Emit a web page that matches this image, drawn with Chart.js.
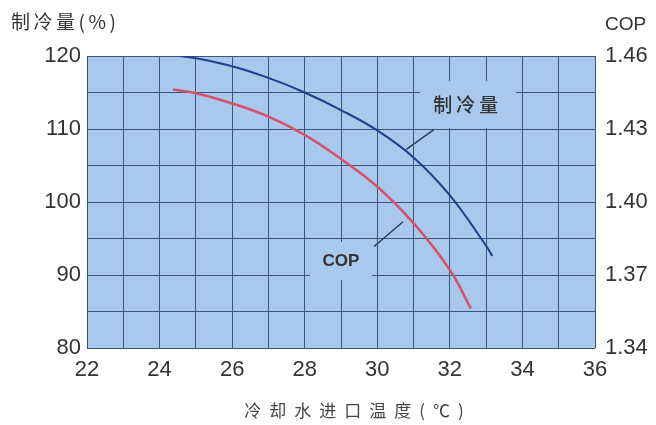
<!DOCTYPE html>
<html>
<head>
<meta charset="utf-8">
<script src="https://cdn.jsdelivr.net/npm/chart.js@4.4.1/dist/chart.umd.min.js"></script>
<style>
  html, body { margin: 0; padding: 0; background: #fff; }
  #wrap { width: 656px; height: 425px; position: relative; }
</style>
</head>
<body>
<div id="wrap"><canvas id="chart" width="656" height="425"></canvas></div>
<script>
// 冷却水进口温度 (℃) 与 制冷量 / COP 的数据
const capTemp = [24.55, 25, 26, 27, 28, 29, 30, 31, 32, 33, 33.17];
const capValue = [120.0, 119.7, 118.6, 117.0, 115.0, 112.6, 109.8, 106.1, 100.9, 94.0, 92.6];

const copTemp = [24.37, 25, 26, 27, 28, 29, 30, 31, 32, 32.58];
const copValue = [1.4462, 1.4447, 1.4405, 1.4351, 1.4276, 1.4177, 1.4063, 1.3913, 1.3721, 1.3562];

const xTicks = [22, 24, 26, 28, 30, 32, 34, 36];
const leftTicks = [80, 90, 100, 110, 120];
const rightTicks = [1.34, 1.37, 1.40, 1.43, 1.46];

const FONT = "Arial, 'Liberation Sans', sans-serif";
const CJK = "'Noto Sans CJK SC', sans-serif";
const GRID = '#39577d';
const PLOT_BG = '#a8c8ec';

// 背景 + 标注文字
const deco = {
    id: 'deco',
    beforeDraw(chart) {
        const { ctx, chartArea: a } = chart;
        ctx.save();
        ctx.fillStyle = PLOT_BG;
        ctx.fillRect(a.left, a.top, a.right - a.left, a.bottom - a.top);
        ctx.restore();
    },
    beforeDatasetsDraw(chart) {
        const { ctx } = chart;
        const x = chart.scales.x, yl = chart.scales.y;
        ctx.save();
        // 标注底色盖住网格线
        ctx.fillStyle = PLOT_BG;
        let px = x.getPixelForValue(32.5), py = yl.getPixelForValue(113.3);
        ctx.fillRect(px - 48, py - 24, 96, 47);
        px = x.getPixelForValue(29.0); py = yl.getPixelForValue(91.9);
        ctx.fillRect(px - 31, py - 19, 62, 38);
        ctx.restore();
    },
    afterDatasetsDraw(chart) {
        const { ctx } = chart;
        const x = chart.scales.x, yl = chart.scales.y;
        ctx.save();
        ctx.fillStyle = '#333';
        ctx.textAlign = 'center';
        ctx.textBaseline = 'middle';
        ctx.font = '500 19px ' + CJK;
        ctx.letterSpacing = '4px';
        ctx.fillText('制冷量', x.getPixelForValue(32.44) + 2, yl.getPixelForValue(113.3));
        ctx.letterSpacing = '0px';
        ctx.font = 'bold 17px ' + FONT;
        ctx.fillText('COP', x.getPixelForValue(29.0), yl.getPixelForValue(91.9));
        // 引线
        ctx.strokeStyle = '#2b3f5a';
        ctx.lineWidth = 1.5;
        ctx.beginPath();
        ctx.moveTo(x.getPixelForValue(30.8), yl.getPixelForValue(107.2));
        ctx.lineTo(x.getPixelForValue(31.56), yl.getPixelForValue(109.9));
        ctx.moveTo(x.getPixelForValue(29.91), yl.getPixelForValue(93.9));
        ctx.lineTo(x.getPixelForValue(30.71), yl.getPixelForValue(97.3));
        ctx.stroke();
        ctx.restore();
    },
    afterDraw(chart) {
        const { ctx } = chart;
        ctx.save();
        ctx.fillStyle = '#333';
        ctx.textBaseline = 'middle';
        ctx.textAlign = 'left';
        ctx.font = '19px ' + CJK;
        ctx.letterSpacing = '3.5px';
        ctx.fillText('制冷量(%)', 11, 22);
        ctx.letterSpacing = '0px';
        ctx.font = '19px ' + FONT;
        ctx.fillText('COP', 605, 25);
        ctx.font = '17px ' + CJK;
        ctx.letterSpacing = '8px';
        ctx.textAlign = 'center';
        ctx.fillStyle = '#444';
        ctx.fillText('冷却水进口温度(℃)', 358, 411);
        ctx.restore();
    }
};

new Chart(document.getElementById('chart').getContext('2d'), {
    type: 'line',
    data: {
        datasets: [{
            label: '制冷量',
            data: capTemp.map((t, i) => ({ x: t, y: capValue[i] })),
            borderColor: '#1f3f8f',
            borderWidth: 2,
            pointRadius: 0,
            tension: 0.4,
            yAxisID: 'y'
        }, {
            label: 'COP',
            data: copTemp.map((t, i) => ({ x: t, y: copValue[i] })),
            borderColor: '#d8506c',
            borderWidth: 2.5,
            pointRadius: 0,
            tension: 0.4,
            yAxisID: 'y2'
        }]
    },
    options: {
        responsive: false,
        animation: false,
        layout: { padding: { top: 56, left: 0, right: 0, bottom: 0 } },
        plugins: { legend: { display: false }, tooltip: { enabled: false } },
        scales: {
            x: {
                type: 'linear',
                min: 22, max: 36,
                border: { display: false },
                grid: { color: GRID, lineWidth: 1, drawTicks: false },
                ticks: {
                    stepSize: 1,
                    padding: 9,
                    color: '#333',
                    font: { family: FONT, size: 22 },
                    maxRotation: 0,
                    autoSkip: false,
                    callback: v => xTicks.includes(v) ? v : ''
                },
                afterFit: s => { s.height = 77; }
            },
            y: {
                position: 'left',
                min: 80, max: 120,
                border: { display: false },
                grid: { color: GRID, lineWidth: 1, drawTicks: false },
                ticks: {
                    stepSize: 5,
                    padding: 6,
                    color: '#333',
                    font: { family: FONT, size: 22 },
                    callback: v => leftTicks.includes(v) ? v : ''
                },
                afterFit: s => { s.width = 87; }
            },
            y2: {
                position: 'right',
                min: 1.34, max: 1.46,
                border: { display: false },
                grid: { display: false, drawTicks: false },
                ticks: {
                    stepSize: 0.03,
                    padding: 10,
                    color: '#333',
                    font: { family: FONT, size: 22 },
                    callback: v => {
                        const r = Math.round(v * 100) / 100;
                        return rightTicks.includes(r) ? r.toFixed(2) : '';
                    }
                },
                afterFit: s => { s.width = 61; }
            }
        }
    },
    plugins: [deco]
});
</script>
</body>
</html>
